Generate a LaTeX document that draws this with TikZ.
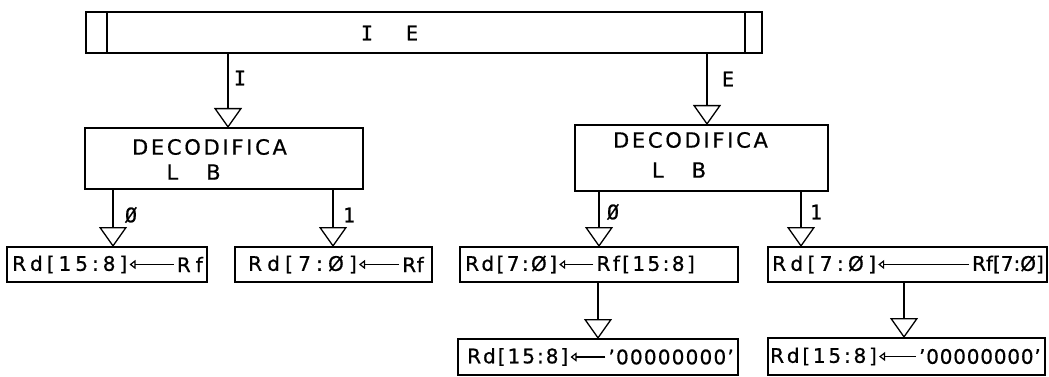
\documentclass[tikz,border=0pt]{standalone}
\usepackage{fontspec}
\setmainfont{DejaVu Sans}[FakeBold=0.7]
\setmonofont{DejaVu Sans Mono}
\usetikzlibrary{arrows.meta}
\begin{document}
\begin{tikzpicture}[x=1pt,y=-1pt,
  edge/.style={line width=1.3pt},
  box/.style={draw, line width=1.3pt, rectangle, inner sep=0pt, outer sep=0pt},
  flow/.style={line width=1.3pt, -{Triangle[open, width=28pt, length=20pt]}},
  assign/.style={line width=1.2pt, -{Triangle[open, width=9pt, length=6pt]}, shorten >=2pt, shorten <=3pt},
  lbl/.style={font=\ttfamily\fontsize{20}{22}\selectfont\addfontfeature{FakeBold=0.7}, inner sep=0pt},
  title/.style={font=\fontsize{21}{24}\selectfont\addfontfeature{LetterSpace=13,FakeBold=0.7}, inner sep=0pt},
  lb/.style={font=\fontsize{21}{24}\selectfont\addfontfeature{FakeBold=0.7}, inner sep=0pt},
  tx/.style={font=\fontsize{20}{22}\selectfont\addfontfeature{LetterSpace=#1,FakeBold=0.7}, inner sep=0pt},
]
\useasboundingbox (0,0) rectangle (1049,377);

% top register bar
\node[box, minimum width=676pt, minimum height=41pt] (bar) at (424,32.5) {};
\draw[edge] ([xshift=21pt]bar.north west) -- ([xshift=21pt]bar.south west);
\draw[edge] ([xshift=-17pt]bar.north east) -- ([xshift=-17pt]bar.south east);
\node[lbl] (bart) at (389.5,33) {I\hspace{33pt}E};

% decode boxes
\node[box, minimum width=278pt, minimum height=61pt] (dec1) at (224,158.5) {};
\node[title] (dec1a) at (209.5,147) {DECODIFICA};
\node[lb] (dec1b) at (193.6,172) {L\hspace{28pt}B};

\node[box, minimum width=253pt, minimum height=66pt] (dec2) at (701.5,158) {};
\node[title] (dec2a) at (690.5,140) {DECODIFICA};
\node[lb] (dec2b) at (679,170) {L\hspace{28pt}B};

% assignment boxes
\node[box, minimum width=200pt, minimum height=35pt] (b1) at (107,264.5) {};
\node[tx=20, anchor=west] (b1l) at (12,264.5) {Rd[15:8]};
\node[tx=25, anchor=east] (b1r) at (203,264.5) {Rf};
\draw[assign] (b1r.west) -- (b1l.east);

\node[box, minimum width=197pt, minimum height=35pt] (b2) at (333.5,264.5) {};
\node[tx=26, anchor=west] (b2l) at (248,264.5) {Rd[7:Ø]};
\node[tx=3, anchor=east] (b2r) at (424,264.5) {Rf};
\draw[assign] (b2r.west) -- (b2l.east);

\node[box, minimum width=278pt, minimum height=35pt] (b3) at (599,264.5) {};
\node[tx=12, anchor=west] (b3l) at (465,264.5) {Rd[7:Ø]};
\node[tx=12, anchor=east] (b3r) at (695,264.5) {Rf[15:8]};
\draw[assign] (b3r.west) -- (b3l.east);

\node[box, minimum width=279pt, minimum height=35pt] (b4) at (907.5,264.5) {};
\node[tx=22, anchor=west] (b4l) at (772,264.5) {Rd[7:Ø]};
\node[tx=0, anchor=east] (b4r) at (1044,264.5) {Rf[7:Ø]};
\draw[assign] (b4r.west) -- (b4l.east);

\node[box, minimum width=280pt, minimum height=36pt] (b5) at (598,357) {};
\node[tx=10, anchor=west] (b5l) at (467,357) {Rd[15:8]};
\node[tx=6, anchor=east] (b5r) at (734,357) {'00000000'};
\draw[assign] (b5r.west) -- (b5l.east);

\node[box, minimum width=277pt, minimum height=37pt] (b6) at (906.5,356.5) {};
\node[tx=14, anchor=west] (b6l) at (770,356.5) {Rd[15:8]};
\node[tx=4, anchor=east] (b6r) at (1041,356.5) {'00000000'};
\draw[assign] (b6r.west) -- (b6l.east);

% flow connectors
\draw[flow] (228,0 |- bar.south) -- (228,0 |- dec1.north);
\draw[flow] (707,0 |- bar.south) -- (707,0 |- dec2.north);
\draw[flow] (113,0 |- dec1.south) -- (113,0 |- b1.north);
\draw[flow] (333,0 |- dec1.south) -- (333,0 |- b2.north);
\draw[flow] (599,0 |- dec2.south) -- (599,0 |- b3.north);
\draw[flow] (801,0 |- dec2.south) -- (801,0 |- b4.north);
\draw[flow] (598,0 |- b3.south) -- (598,0 |- b5.north);
\draw[flow] (904,0 |- b4.south) -- (904,0 |- b6.north);

% connector labels
\node[lbl] (lI) at (240,78) {I};
\node[lbl] (lE) at (728,79) {E};
\node[lbl] (l10) at (131,215) {Ø};
\node[lbl] (l11) at (349,215) {1};
\node[lbl] (l20) at (613,212) {Ø};
\node[lbl] (l21) at (816,212) {1};
\end{tikzpicture}
\end{document}
